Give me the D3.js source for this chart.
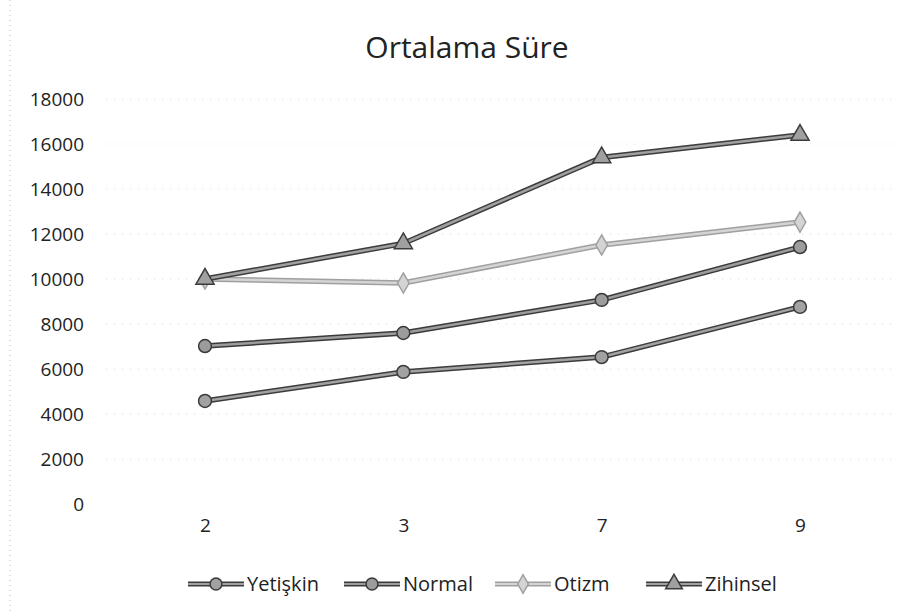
<!DOCTYPE html>
<html>
<head>
<meta charset="utf-8">
<script src="https://cdn.jsdelivr.net/npm/d3@7"></script>
<style>
  body { margin: 0; background: #fff; }
  text { font-family: "Open Sans", sans-serif; fill: #222; }
</style>
</head>
<body>
<div id="chart"></div>
<script>
// chart data
const categories = ["2", "3", "7", "9"];
const seriesNames = ["Yetişkin", "Normal", "Otizm", "Zihinsel"];
const yetiskin = [4580, 5870, 6530, 8760];
const normal = [7020, 7600, 9070, 11420];
const otizm = [10000, 9820, 11510, 12530];
const zihinsel = [10000, 11580, 15400, 16400];
const yTicks = [0, 2000, 4000, 6000, 8000, 10000, 12000, 14000, 16000, 18000];

const allSeries = [yetiskin, normal, otizm, zihinsel];
// look of each series (scanned grey excel lines)
const looks = [
  {outer: "#3c3c3c", inner: "#a2a2a2", marker: "circle"},
  {outer: "#3a3a3a", inner: "#9c9c9c", marker: "circle"},
  {outer: "#a0a0a0", inner: "#d4d4d4", marker: "diamond"},
  {outer: "#3c3c3c", inner: "#a0a0a0", marker: "triangle"}
];

const W = 916, H = 615;
const svg = d3.select("#chart").append("svg").attr("width", W).attr("height", H);

// scanned page edge on the left
svg.append("line")
  .attr("x1", 10).attr("x2", 10).attr("y1", 0).attr("y2", H)
  .attr("stroke", "#bbb").attr("stroke-dasharray", "1,4");

const x = d3.scalePoint().domain(categories).range([205, 800]);
const y = d3.scaleLinear().domain([0, 18000]).range([504, 99]);

//title
svg.append("text")
  .attr("x", 467).attr("y", 58)
  .attr("text-anchor", "middle")
  .style("font-size", "30px")
  .text("Ortalama Süre");

//faint gridlines
svg.append("g").selectAll("line")
  .data(yTicks.filter(d => d > 0))
  .join("line")
  .attr("x1", 106).attr("x2", 898)
  .attr("y1", d => y(d)).attr("y2", d => y(d))
  .attr("stroke", "#dadada").attr("stroke-dasharray", "1,7");

//y axis labels
const yAxis = svg.append("g")
  .attr("transform", "translate(88,0)")
  .call(d3.axisLeft(y).tickValues(yTicks).tickSize(0).tickPadding(4).tickFormat(d3.format("d")));
yAxis.select(".domain").remove();
yAxis.selectAll("text").style("font-size", "19px").style("font-family", "Open Sans").attr("fill", "#222");

//x axis labels
const xAxis = svg.append("g")
  .attr("transform", "translate(0,518)")
  .call(d3.axisBottom(x).tickSize(0).tickPadding(0));
xAxis.select(".domain").remove();
xAxis.selectAll("text").style("font-size", "19px").style("font-family", "Open Sans").attr("fill", "#222");

function markerPath(type, size) {
  if (type === "circle") return d3.symbol(d3.symbolCircle, size)();
  if (type === "diamond") return d3.symbol(d3.symbolDiamond, size * 0.9)();
  return d3.symbol(d3.symbolTriangle, size * 1.1)();
}

const line = d3.line().x((d, i) => x(categories[i])).y(d => y(d));

allSeries.forEach(function(vals, s) {
  const look = looks[s];
  const g = svg.append("g");
  g.append("path").datum(vals).attr("d", line)
    .attr("fill", "none").attr("stroke", look.outer).attr("stroke-width", 5.5);
  g.append("path").datum(vals).attr("d", line)
    .attr("fill", "none").attr("stroke", look.inner).attr("stroke-width", 2.5);
  g.selectAll(".mk").data(vals).join("path")
    .attr("class", "mk")
    .attr("transform", (d, i) => `translate(${x(categories[i])},${y(d)})`)
    .attr("d", markerPath(look.marker, 130))
    .attr("fill", look.inner).attr("stroke", look.outer).attr("stroke-width", 1.5);
});

//legend
const legendX = [188, 344, 495, 646];
const leg = svg.append("g");
seriesNames.forEach(function(name, s) {
  const look = looks[s];
  const lx = legendX[s], ly = 584;
  leg.append("line").attr("x1", lx).attr("x2", lx + 56).attr("y1", ly).attr("y2", ly)
    .attr("stroke", look.outer).attr("stroke-width", 5);
  leg.append("line").attr("x1", lx).attr("x2", lx + 56).attr("y1", ly).attr("y2", ly)
    .attr("stroke", look.inner).attr("stroke-width", 2);
  leg.append("path").attr("transform", `translate(${lx + 28},${ly})`)
    .attr("d", markerPath(look.marker, 110))
    .attr("fill", look.inner).attr("stroke", look.outer).attr("stroke-width", 1.5);
  leg.append("text").attr("x", lx + 59).attr("y", ly + 7)
    .style("font-size", "20px").text(name);
});
</script>
</body>
</html>
